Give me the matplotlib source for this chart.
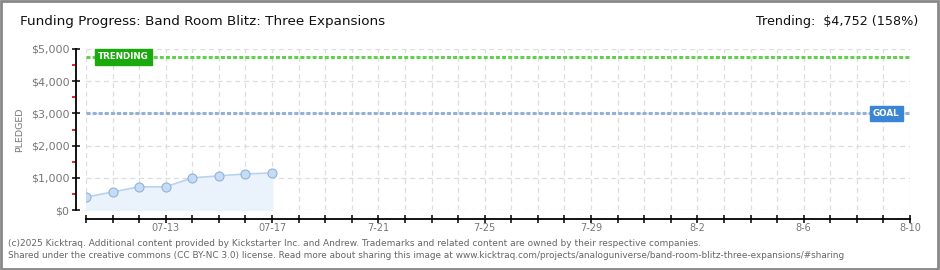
import datetime as dt
import matplotlib
matplotlib.use("Agg")
import matplotlib.pyplot as plt
import matplotlib.dates as mdates
from matplotlib.patches import Rectangle
from matplotlib.ticker import MultipleLocator, FuncFormatter

# data
dates = [dt.date(2025, 7, d) for d in range(10, 18)]
pledged = [400, 560, 720, 720, 1000, 1060, 1120, 1150]
goal = 3000
trending = 4752
start, end = dt.date(2025, 7, 10), dt.date(2025, 8, 10)
label_dates = [dt.date(2025, 7, 13), dt.date(2025, 7, 17), dt.date(2025, 7, 21),
               dt.date(2025, 7, 25), dt.date(2025, 7, 29), dt.date(2025, 8, 2),
               dt.date(2025, 8, 6), dt.date(2025, 8, 10)]
label_texts = ["07-13", "07-17", "7-21", "7-25", "7-29", "8-2", "8-6", "8-10"]

W, H = 940, 270
fig = plt.figure(figsize=(W / 100, H / 100), dpi=100)
ax = fig.add_axes([86 / W, 1 - 210 / H, (910 - 86) / W, (210 - 49) / H])

ax.set_xlim(start, end)
ax.set_ylim(0, 5000)

# grid
ax.yaxis.set_major_locator(MultipleLocator(1000))
ax.yaxis.set_minor_locator(MultipleLocator(500))
ax.grid(True, which="major", color="#dddddd", linestyle=(0, (4, 3)), linewidth=0.9)
ax.set_axisbelow(True)

# pledged series
ax.fill_between(dates, pledged, color="#eaf2fb", zorder=2)
ax.plot(dates, pledged, color="#b9d3ee", linewidth=1.2, zorder=3)
ax.plot(dates, pledged, linestyle="none", marker="o", markersize=6.5,
        markerfacecolor="#c5dcf6", markeredgecolor="#93b2d6", markeredgewidth=0.8, zorder=4)

# trending and goal lines
ax.axhline(trending, color="#5fd14d", linewidth=2.2, linestyle=(0, (1.3, 0.7)), zorder=3)
ax.axhline(goal, color="#93b0d6", linewidth=2.2, linestyle=(0, (1.3, 0.7)), zorder=3)

ax.annotate("TRENDING", xy=(mdates.date2num(start), trending), xytext=(8.5, 0),
            textcoords="offset points", color="white", fontsize=6.3, fontweight="bold",
            va="center", ha="left", zorder=5,
            bbox=dict(boxstyle="square,pad=0.35", fc="#1aaa0e", ec="#1aaa0e"))
ax.annotate("GOAL", xy=(mdates.date2num(end), goal), xytext=(-7.5, 0),
            textcoords="offset points", color="white", fontsize=6.3, fontweight="bold",
            va="center", ha="right", zorder=5,
            bbox=dict(boxstyle="square,pad=0.35", fc="#3a86d4", ec="#3a86d4"))

# spines
for s in ["top", "right"]:
    ax.spines[s].set_visible(False)
ax.spines["left"].set_position(("outward", 7.2))
ax.spines["bottom"].set_position(("outward", 6.5))
ax.spines["left"].set_linewidth(1.3)
ax.spines["bottom"].set_linewidth(1.3)

all_days = [start + dt.timedelta(days=i) for i in range((end - start).days + 1)]
ax.set_xticks(mdates.date2num(all_days))
ax.set_xticklabels([label_texts[label_dates.index(d)] if d in label_dates else ""
                    for d in all_days])
ax.tick_params(axis="x", direction="inout", length=5.5, width=1.1, color="black",
               labelsize=7, labelcolor="#777777", pad=0)
ax.tick_params(axis="y", which="major", direction="inout", length=5.5, width=1.1,
               color="black", labelsize=8, labelcolor="#777777", pad=2)
ax.tick_params(axis="y", which="minor", direction="out", length=3.2, width=1.3, color="#ee1111")
ax.yaxis.set_major_formatter(FuncFormatter(lambda v, p: f"${v:,.0f}"))
ax.set_ylabel("PLEDGED", fontsize=6.8, color="#777777", labelpad=5)

# title and header
fig.text(20 / W, 1 - 22 / H, "Funding Progress: Band Room Blitz: Three Expansions",
         fontsize=9.7, color="#111111", va="center", ha="left")
fig.text(918 / W, 1 - 22 / H, "Trending:  $4,752 (158%)",
         fontsize=9.2, color="#111111", va="center", ha="right")

# footer
fig.text(8 / W, 1 - 243 / H,
         "(c)2025 Kicktraq. Additional content provided by Kickstarter Inc. and Andrew. "
         "Trademarks and related content are owned by their respective companies.",
         fontsize=6.5, color="#666666", va="center", ha="left")
fig.text(8 / W, 1 - 256 / H,
         "Shared under the creative commons (CC BY-NC 3.0) license. Read more about sharing "
         "this image at www.kicktraq.com/projects/analoguniverse/band-room-blitz-three-expansions/#sharing",
         fontsize=6.4, color="#666666", va="center", ha="left")

# outer frame
fig.patches.append(Rectangle((0.001, 0.002), 0.997, 0.995, transform=fig.transFigure,
                             fill=False, edgecolor="#888888", linewidth=2))

fig.savefig("out.png", dpi=100)
